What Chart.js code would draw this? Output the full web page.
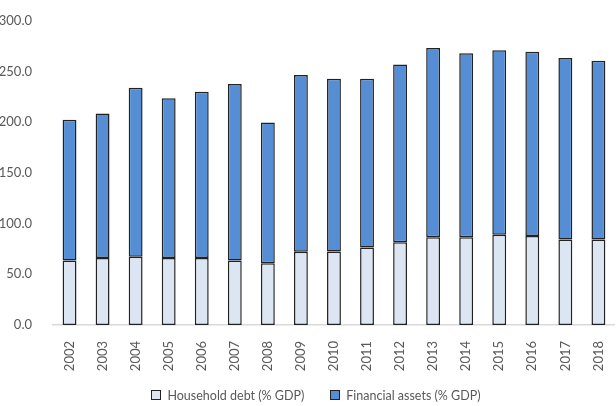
<!DOCTYPE html>
<html>
<head>
<meta charset="utf-8">
<script src="https://cdn.jsdelivr.net/npm/chart.js@4.4.1/dist/chart.umd.min.js"></script>
<style>
  html, body { margin: 0; padding: 0; background: #fff; overflow: hidden; }
  #wrap { position: relative; width: 616px; height: 406px; overflow: hidden; }
  #legend { position: absolute; left: 8px; top: 388px; width: 616px; text-align: center;
    font: 12.5px Lato, sans-serif; color: #595959; }
  #legend span.item { display: inline-block; margin: 0 13px; }
  #legend span.box { display: inline-block; width: 8px; height: 8px; border: 1px solid #222;
    margin-right: 6px; vertical-align: 0px; }
</style>
</head>
<body>
<div id="wrap">
  <canvas id="myChart" width="622" height="406"></canvas>
  <div id="legend"></div>
</div>
<script>
const years = ['2002', '2003', '2004', '2005', '2006', '2007', '2008', '2009', '2010',
  '2011', '2012', '2013', '2014', '2015', '2016', '2017', '2018'];
const householdDebt = [63.5, 66.1, 67.4, 66.1, 66.0, 63.5, 61.0, 72.3, 72.6,
  76.5, 81.6, 86.5, 86.5, 89.0, 87.7, 84.2, 84.2];
const financialAssets = [138.8, 142.6, 166.5, 157.4, 164.0, 174.2, 138.7, 174.2, 170.3,
  166.4, 175.2, 186.7, 181.6, 182.0, 181.7, 179.0, 176.4];
const yTicks = [0, 50, 100, 150, 200, 250, 300];

const seriesNames = ['Household debt (% GDP)', 'Financial assets (% GDP)'];
const seriesColors = ['#dce6f2', '#558ed5'];

const ctx = document.getElementById('myChart').getContext('2d');

new Chart(ctx, {
    type: 'bar',
    data: {
        labels: years,
        datasets: [{
            label: seriesNames[0],
            data: householdDebt,
            backgroundColor: seriesColors[0],
            borderColor: '#222',
            borderWidth: 1.5,
            borderSkipped: false
        }, {
            label: seriesNames[1],
            data: financialAssets,
            backgroundColor: seriesColors[1],
            borderColor: '#222',
            borderWidth: 1.5,
            borderSkipped: false
        }]
    },
    options: {
        responsive: false,
        animation: false,
        layout: { padding: { top: 15, left: 0, right: 0, bottom: 0 } },
        datasets: { bar: { categoryPercentage: 1, barPercentage: 0.42 } },
        scales: {
            x: {
                stacked: true,
                grid: { display: false },
                border: { display: true, color: '#d9d9d9', width: 1.5 },
                ticks: {
                    color: '#595959',
                    font: { family: 'Lato', size: 13 },
                    minRotation: 90,
                    maxRotation: 90,
                    padding: 8,
                    autoSkip: false
                },
                afterFit: axis => { axis.height = 81; }
            },
            y: {
                stacked: true,
                min: 0,
                max: 300,
                grid: { display: false },
                border: { display: false },
                afterBuildTicks: axis => { axis.ticks = yTicks.map(v => ({ value: v })); },
                ticks: {
                    color: '#595959',
                    font: { family: 'Lato', size: 13 },
                    padding: 13,
                    callback: v => v.toFixed(1)
                },
                afterFit: axis => { axis.width = 53; }
            }
        },
        plugins: {
            legend: { display: false },
            tooltip: { enabled: false }
        }
    }
});

// legend below the chart
const legendEl = document.getElementById('legend');
seriesNames.forEach((name, i) => {
    const item = document.createElement('span');
    item.className = 'item';
    const box = document.createElement('span');
    box.className = 'box';
    box.style.background = seriesColors[i];
    item.appendChild(box);
    item.appendChild(document.createTextNode(name));
    legendEl.appendChild(item);
});
</script>
</body>
</html>
